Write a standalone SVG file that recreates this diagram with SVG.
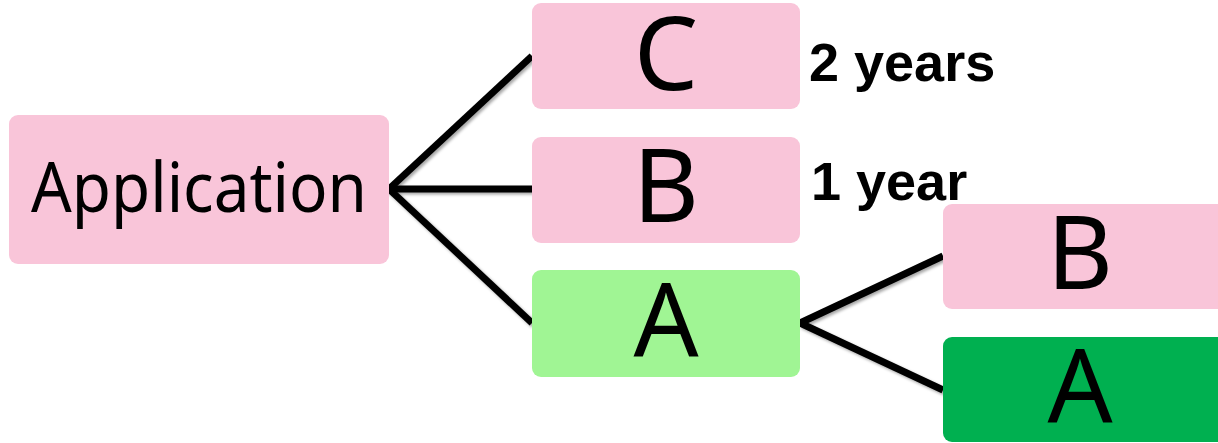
<svg xmlns="http://www.w3.org/2000/svg" width="1218" height="443" viewBox="0 0 1218 443">
<style>
.pink{fill:#F9C5D9}
.lgreen{fill:#A0F594}
.dgreen{fill:#00B050}
.lbl{font-family:"Noto Sans","Open Sans",sans-serif;fill:#000;text-anchor:middle}
.big{font-size:102px}
.yr{font-family:"Liberation Sans",Arial,sans-serif;font-weight:bold;font-size:54px;fill:#000}
.conn{stroke:#000;stroke-width:7;fill:none;stroke-linecap:butt}
</style>
<defs>
<filter id="sh" x="-10%" y="-10%" width="120%" height="120%">
<feDropShadow dx="2" dy="2" stdDeviation="1.5" flood-color="#000" flood-opacity="0.35"/>
</filter>
</defs>
<rect width="1218" height="443" fill="#fff"/>
<g id="connectors" filter="url(#sh)">
<line class="conn" x1="389" y1="189" x2="532" y2="56"/>
<line class="conn" x1="389" y1="189" x2="532" y2="189"/>
<line class="conn" x1="389" y1="189" x2="532" y2="323"/>
<line class="conn" x1="800" y1="323" x2="943" y2="256"/>
<line class="conn" x1="800" y1="323" x2="943" y2="390"/>
</g>
<g id="application">
<rect class="pink" x="9" y="115" width="380" height="149" rx="9"/>
<text class="lbl" x="199" y="212" font-size="69" textLength="336" lengthAdjust="spacingAndGlyphs">Application</text>
</g>
<g id="nodeC">
<rect class="pink" x="532" y="3" width="268" height="106" rx="9"/>
<text class="lbl big" x="666" y="90">C</text>
</g>
<g id="nodeB">
<rect class="pink" x="532" y="137" width="268" height="106" rx="9"/>
<text class="lbl big" x="666" y="222">B</text>
</g>
<g id="nodeA">
<rect class="lgreen" x="532" y="270" width="268" height="107" rx="9"/>
<text class="lbl big" x="666" y="357">A</text>
</g>
<g id="nodeB2">
<rect class="pink" x="943" y="204" width="290" height="105" rx="9"/>
<text class="lbl big" x="1080" y="289">B</text>
</g>
<g id="nodeA2">
<rect class="dgreen" x="943" y="337" width="290" height="105" rx="9"/>
<text class="lbl big" x="1080" y="423">A</text>
</g>
<g id="labels">
<text class="yr" x="809" y="81">2 years</text>
<text class="yr" x="811" y="200">1 year</text>
</g>
</svg>
